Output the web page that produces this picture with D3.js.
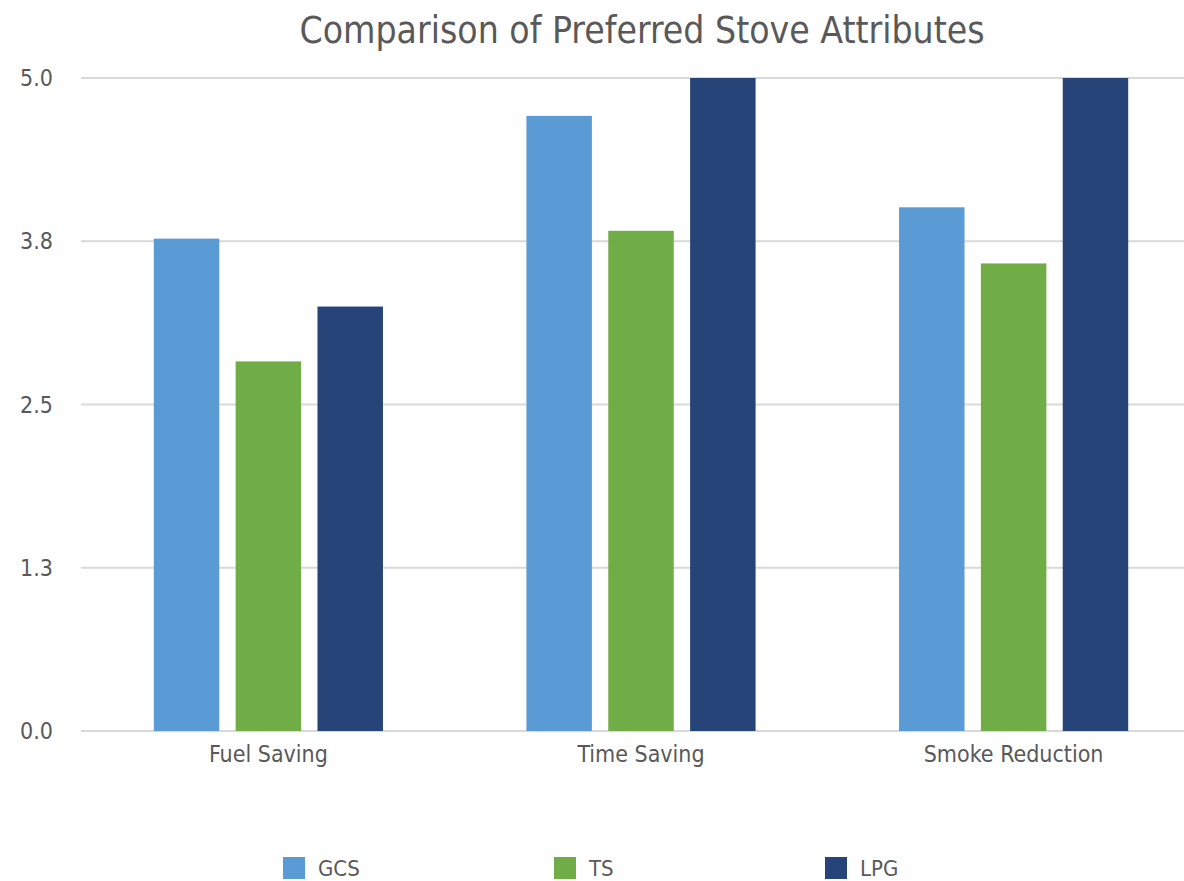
<!DOCTYPE html>
<html>
<head>
<meta charset="utf-8">
<script src="https://cdn.jsdelivr.net/npm/d3@7"></script>
<style>
  body { margin: 0; background: #fff; }
  text { font-family: "DejaVu Sans Condensed", "DejaVu Sans", sans-serif; fill: #595959; }
</style>
</head>
<body>
<svg width="1184" height="881"></svg>
<script>
// chart data
var categories = ['Fuel Saving', 'Time Saving', 'Smoke Reduction'];
var seriesNames = ['GCS', 'TS', 'LPG'];
var gcsValues = [3.77, 4.71, 4.01];
var tsValues = [2.83, 3.83, 3.58];
var lpgValues = [3.25, 5.0, 5.0];
var tickValues = [0, 1.25, 2.5, 3.75, 5];
var tickLabels = ['0.0', '1.3', '2.5', '3.8', '5.0'];
var colors = ['#5b9bd5', '#70ad47', '#264478'];

var values = [gcsValues, tsValues, lpgValues];

var svg = d3.select('svg');

var x0 = d3.scaleBand().domain(categories).range([83, 1199]).paddingInner(0.385).paddingOuter(0.19);
var x1 = d3.scaleBand().domain(seriesNames).range([0, x0.bandwidth()]).paddingInner(0.2);
var y = d3.scaleLinear().domain([0, 5]).range([731, 78]);

// gridlines
svg.append('g').selectAll('line').data(tickValues).enter().append('line')
    .attr('x1', 81).attr('x2', 1184)
    .attr('y1', function(d) { return y(d); }).attr('y2', function(d) { return y(d); })
    .attr('stroke', '#d9d9d9').attr('stroke-width', 2);

// y tick labels
svg.append('g').selectAll('text').data(tickValues).enter().append('text')
    .attr('x', 53).attr('y', function(d) { return y(d); })
    .attr('dy', '0.35em').attr('text-anchor', 'end')
    .attr('font-size', 23)
    .text(function(d, i) { return tickLabels[i]; });

// bars
var groups = svg.append('g').selectAll('g').data(categories).enter().append('g')
    .attr('transform', function(d) { return 'translate(' + x0(d) + ',0)'; });

groups.selectAll('rect').data(function(d, ci) {
    return seriesNames.map(function(s, si) { return { s: s, v: values[si][ci], c: colors[si] }; });
}).enter().append('rect')
    .attr('x', function(d) { return x1(d.s); })
    .attr('width', x1.bandwidth())
    .attr('y', function(d) { return y(d.v); })
    .attr('height', function(d) { return y(0) - y(d.v); })
    .attr('fill', function(d) { return d.c; });

// category labels
svg.append('g').selectAll('text').data(categories).enter().append('text')
    .attr('x', function(d) { return x0(d) + x0.bandwidth() / 2; })
    .attr('y', 762).attr('text-anchor', 'middle')
    .attr('font-size', 23)
    .text(function(d) { return d; });

// title
svg.append('text').attr('x', 642).attr('y', 43).attr('text-anchor', 'middle')
    .attr('font-size', 37)
    .text('Comparison of Preferred Stove Attributes');

// legend
var lx = d3.scalePoint().domain(seriesNames).range([283, 825]);
var leg = svg.append('g').selectAll('g').data(seriesNames).enter().append('g')
    .attr('transform', function(d) { return 'translate(' + lx(d) + ',857)'; });
leg.append('rect').attr('width', 22).attr('height', 22)
    .attr('fill', function(d, i) { return colors[i]; });
leg.append('text').attr('x', 35).attr('y', 19).attr('font-size', 22)
    .text(function(d) { return d; });
</script>
</body>
</html>
